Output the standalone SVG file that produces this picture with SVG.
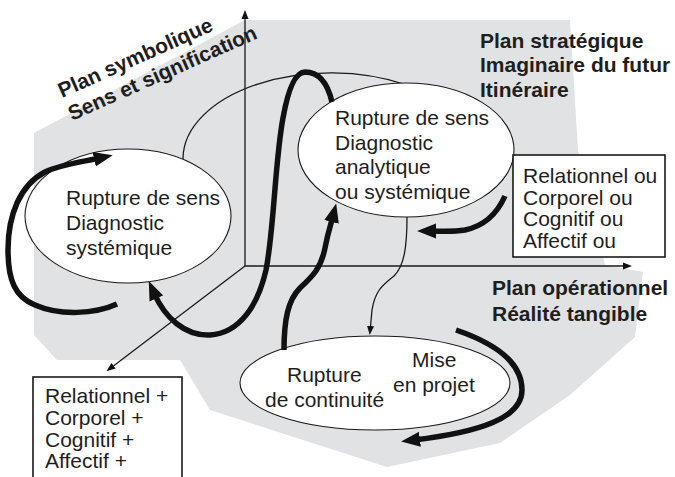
<svg xmlns="http://www.w3.org/2000/svg" width="675" height="477" viewBox="0 0 675 477">
<defs>
<marker id="thick" markerUnits="userSpaceOnUse" viewBox="0 -8 19 16" refX="6" refY="0" markerWidth="19" markerHeight="16" orient="auto">
<path d="M0,-7.5 L19,0 L0,7.5 z" fill="#111"/>
</marker>
<marker id="thin" markerUnits="userSpaceOnUse" viewBox="0 -4 9 8" refX="6" refY="0" markerWidth="9" markerHeight="8" orient="auto">
<path d="M0,-3.5 L9,0 L0,3.5 z" fill="#111"/>
</marker>
</defs>
<style>
.t{font-family:"Liberation Sans",Arial,sans-serif;font-size:21px;fill:#1e1e1e}
.b{font-family:"Liberation Sans",Arial,sans-serif;font-size:21px;font-weight:bold;fill:#1e1e1e}
.el{fill:#fff;stroke:#1a1a1a;stroke-width:1.1}
.box{fill:#fff;stroke:#1a1a1a;stroke-width:1.6}
.ax{fill:none;stroke:#1a1a1a;stroke-width:1.3}
.tk{fill:none;stroke:#111;stroke-width:5.5;stroke-linecap:butt}
</style>
<rect width="675" height="477" fill="#fff"/>
<polygon id="plane" points="34,133 245,20 570,20 578,150 605,265 643,272 635,337 570,395 500,443 387,467 210,410 180,360 57,360 34,335" fill="#e1e2e4"/>
<g id="connectors">
<path class="ax" d="M245,266 L245,13" marker-end="url(#thin)"/>
<path class="ax" d="M245,266 L629,266" marker-end="url(#thin)"/>
<path class="ax" d="M245,266 L108.8,369.4" marker-end="url(#thin)"/>
<path class="ax" d="M183,159 A148,86 0 0,1 407,85"/>
</g>
<g id="node-left">
<ellipse class="el" cx="128" cy="216" rx="103" ry="67"/>
<text class="t" x="66" y="205">Rupture de sens</text>
<text class="t" x="66" y="230">Diagnostic</text>
<text class="t" x="66" y="255">systémique</text>
</g>
<g id="node-right">
<ellipse class="el" cx="406" cy="150" rx="108" ry="67"/>
<text class="t" x="335" y="125">Rupture de sens</text>
<text class="t" x="335" y="150">Diagnostic</text>
<text class="t" x="335" y="174">analytique</text>
<text class="t" x="335" y="199">ou systémique</text>
</g>
<g id="node-bottom">
<ellipse class="el" cx="375" cy="383" rx="135" ry="47"/>
<text class="t" x="287" y="382">Rupture</text>
<text class="t" x="265" y="407">de continuité</text>
<text class="t" x="412" y="367">Mise</text>
<text class="t" x="393" y="392">en projet</text>
</g>
<g id="flows">
<path class="tk" d="M117,304 C95,314 60,316 35,305 C15,297 8,280 8,250 C8,215 20,185 45,172 C62,164 82,162 100,158" marker-end="url(#thick)"/>
<path class="tk" d="M332,102 C328,85 320,72 305,72 C295,72 288,90 283,118 C275,160 274,230 266,270 C258,305 240,333 210,335 C185,336 165,318 154,293" marker-end="url(#thick)"/>
<path class="tk" d="M284,350 C284,320 288,300 300,288 C313,276 321,268 325,248 C328,232 331,224 333,216" marker-end="url(#thick)"/>
<path class="tk" d="M505,196 C497,214 484,226 465,230 C452,232 442,231 430,231" marker-end="url(#thick)"/>
<path class="tk" d="M456,330 C500,345 522,365 522,390 C522,418 480,432 414,440" marker-end="url(#thick)"/>
<path class="ax" d="M407,217 C407,248 404,266 394,276 C381,286 375,292 372,310 L370,332" marker-end="url(#thin)"/>
</g>
<g id="box-ou">
<rect class="box" x="513" y="155" width="152" height="102"/>
<text class="t" x="523" y="183">Relationnel ou</text>
<text class="t" x="523" y="205">Corporel ou</text>
<text class="t" x="523" y="226">Cognitif ou</text>
<text class="t" x="523" y="248">Affectif ou</text>
</g>
<g id="box-plus">
<rect class="box" x="33" y="377" width="149" height="110"/>
<text class="t" x="45" y="403">Relationnel +</text>
<text class="t" x="45" y="425">Corporel +</text>
<text class="t" x="45" y="447">Cognitif +</text>
<text class="t" x="45" y="468">Affectif +</text>
</g>
<g id="label-symbolique">
<text class="b" transform="translate(62,98) rotate(-24)">Plan symbolique</text>
<text class="b" transform="translate(72,121) rotate(-24)">Sens et signification</text>
</g>
<g id="label-strategique">
<text class="b" x="480" y="48">Plan stratégique</text>
<text class="b" x="480" y="72">Imaginaire du futur</text>
<text class="b" x="480" y="97">Itinéraire</text>
</g>
<g id="label-operationnel">
<text class="b" x="492" y="295">Plan opérationnel</text>
<text class="b" x="492" y="321">Réalité tangible</text>
</g>
</svg>
